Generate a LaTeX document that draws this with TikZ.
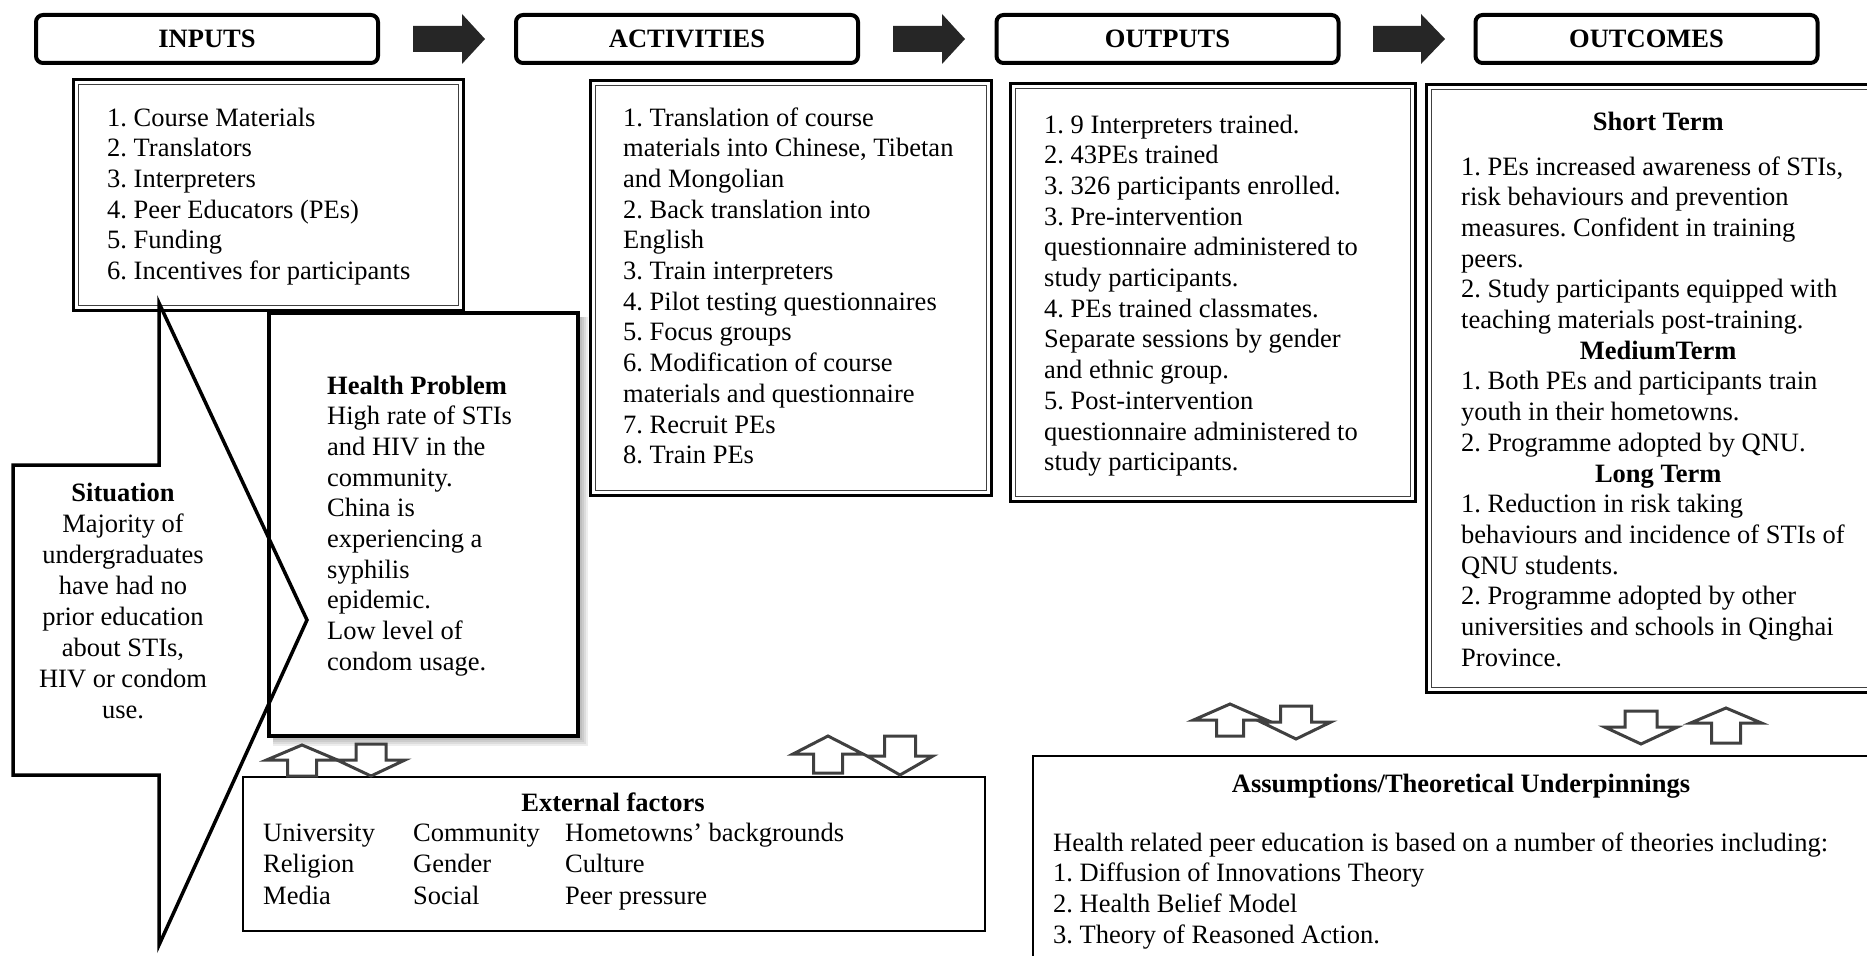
\documentclass[tikz,border=0pt]{standalone}
\usepackage{fontspec}
\setmainfont{Liberation Serif}
\usetikzlibrary{calc}
\tikzset{
  hdr/.style={draw, line width=4pt, rounded corners=7pt, inner sep=0pt,
    minimum width=342pt, minimum height=48pt,
    font=\bfseries\fontsize{26.5}{30.7}\selectfont},
  bigarrow/.style={fill=black!85, draw=none},
  obox/.style={draw, line width=3.2pt},
  ibox/.style={draw=black!75, line width=1.3pt},
  txt/.style={inner sep=0pt, anchor=base west, font=\fontsize{26.5}{30.7}\selectfont\frenchspacing},
  ctxt/.style={txt, anchor=base},
  blk/.style={draw=black!75, line width=3pt, fill=white, line join=miter},
  callout/.style={draw, line width=3.5pt, line join=miter},
}
\newcommand\dblbox[4]{%
  \draw[obox] ($(#1,#2)+(1.6,1.6)$) rectangle ($(#3,#4)+(-1.6,-1.6)$);
  \draw[ibox] ($(#1,#2)+(6.2,6.2)$) rectangle ($(#3,#4)+(-6.2,-6.2)$);}
% up arrow: cx, tip y, half shaft, half wing, wing y, bottom y
\newcommand\uparr[6]{\draw[blk] (#1,#2) -- ({#1+#4},#5) -- ({#1+#3},#5) -- ({#1+#3},#6)
  -- ({#1-#3},#6) -- ({#1-#3},#5) -- ({#1-#4},#5) -- cycle;}
% down arrow: cx, top y, half shaft, half wing, wing y, tip y
\newcommand\dnarr[6]{\draw[blk] ({#1-#3},#2) -- ({#1+#3},#2) -- ({#1+#3},#5) -- ({#1+#4},#5)
  -- (#1,#6) -- ({#1-#4},#5) -- ({#1-#3},#5) -- cycle;}
\newcommand\hdrarrow[3]{\fill[bigarrow] (#1,26) -- (#2,26) -- (#2,14) -- (#3,39) -- (#2,64) -- (#2,52) -- (#1,52) -- cycle;}
\begin{document}
\begin{tikzpicture}[x=1pt,y=-1pt]
\useasboundingbox (0,0) rectangle (1867,955);
\clip (0,0) rectangle (1867,955);

% headers
\node[hdr] (hin) at (207,39) {INPUTS};
\node[hdr] (hact) at (687,39) {ACTIVITIES};
\node[hdr] (hout) at (1167.5,39) {OUTPUTS};
\node[hdr] (hoc) at (1646.5,39) {OUTCOMES};
\hdrarrow{413}{462}{485}
\hdrarrow{893}{942}{965}
\hdrarrow{1373}{1421}{1445}

% content boxes
\dblbox{72}{78}{465}{312}
\dblbox{589}{79}{993}{497}
\dblbox{1009}{82}{1417}{503}
\dblbox{1425}{83}{1890}{694}

\node[txt] (tin) at (107,126) {\parbox[t]{500pt}{\raggedright
1. Course Materials\\
2. Translators\\
3. Interpreters\\
4. Peer Educators (PEs)\\
5. Funding\\
6. Incentives for participants}};

\node[txt] (tact) at (623,126) {\parbox[t]{500pt}{\raggedright
1. Translation of course\\
materials into Chinese, Tibetan\\
and Mongolian\\
2. Back translation into\\
English\\
3. Train interpreters\\
4. Pilot testing questionnaires\\
5. Focus groups\\
6. Modification of course\\
materials and questionnaire\\
7. Recruit PEs\\
8. Train PEs}};

\node[txt] (tout) at (1044,133) {\parbox[t]{500pt}{\raggedright
1. 9 Interpreters trained.\\
2. 43PEs trained\\
3. 326 participants enrolled.\\
3. Pre-intervention\\
questionnaire administered to\\
study participants.\\
4. PEs trained classmates.\\
Separate sessions by gender\\
and ethnic group.\\
5. Post-intervention\\
questionnaire administered to\\
study participants.}};

\node[txt] (toc) at (1461,131) {\parbox[t]{500pt}{\raggedright
\makebox[394pt]{\textbf{Short Term}}\\[13.3pt]
1. PEs increased awareness of STIs,\\
risk behaviours and prevention\\
measures. Confident in training\\
peers.\\
2. Study participants equipped with\\
teaching materials post-training.\\
\makebox[394pt]{\textbf{MediumTerm}}\\
1. Both PEs and participants train\\
youth in their hometowns.\\
2. Programme adopted by QNU.\\
\makebox[394pt]{\textbf{Long Term}}\\
1. Reduction in risk taking\\
behaviours and incidence of STIs of\\
QNU students.\\
2. Programme adopted by other\\
universities and schools in Qinghai\\
Province.}};

% health problem box with shadow
\foreach \k in {2,4,6,8,10}
  \fill[black, opacity=0.07] (273,317) rectangle ({578+\k},{736+\k});
\draw[line width=4pt, fill=white] (269,313) rectangle (578,736);
\node[txt] (thp) at (327,394) {\parbox[t]{300pt}{\raggedright
\textbf{Health Problem}\\
High rate of STIs\\
and HIV in the\\
community.\\
China is\\
experiencing a\\
syphilis\\
epidemic.\\
Low level of\\
condom usage.}};

% situation callout
\draw[callout] (159,303) -- (159,465) -- (13,465) -- (13,775) -- (159,775) -- (159,945) -- (307,620) -- cycle;
\node[ctxt] (tsit) at (123,501) {\parbox[t]{240pt}{\centering\baselineskip=31pt
\textbf{Situation}\\
Majority of\\
undergraduates\\
have had no\\
prior education\\
about STIs,\\
HIV or condom\\
use.}};

% external factors
\draw[line width=1.6pt, fill=white] (243,777) rectangle (985,931);
\node[ctxt] (text) at (613,811) {\textbf{External factors}};
\node[txt] (ec1) at (263,841) {\parbox[t]{200pt}{\raggedright University\\[0.3pt] Religion\\[1.3pt] Media}};
\node[txt] (ec2) at (413,841) {\parbox[t]{200pt}{\raggedright Community\\[0.3pt] Gender\\[1.3pt] Social}};
\node[txt] (ec3) at (565,841) {\parbox[t]{400pt}{\raggedright Hometowns' backgrounds\\[0.3pt] Culture\\[1.3pt] Peer pressure}};

% assumptions
\draw[line width=2.5pt] (1033,756) rectangle (1900,990);
\node[ctxt] (tass) at (1461,792) {\textbf{Assumptions/Theoretical Underpinnings}};
\node[txt] (tassb) at (1053,851) {\parbox[t]{900pt}{\raggedright
Health related peer education is based on a number of theories including:\\
1. Diffusion of Innovations Theory\\
2. Health Belief Model\\
3. Theory of Reasoned Action.}};

% block arrows
\uparr{302}{745}{14.5}{35.5}{760}{776}
\dnarr{371}{744}{15}{34}{760}{776}
\uparr{828}{736}{14.5}{35}{754}{773}
\dnarr{900}{736}{15.5}{33}{756}{775}
\uparr{1230}{704}{13.5}{36.5}{720}{736}
\dnarr{1296}{706}{15.5}{35}{722}{739}
\dnarr{1641}{711}{16}{36.5}{727}{744}
\uparr{1726}{708}{14.5}{35.5}{723}{743}
\end{tikzpicture}
\end{document}
